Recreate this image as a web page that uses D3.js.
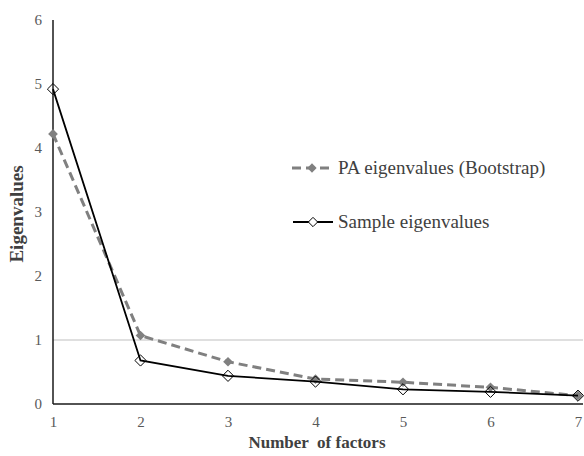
<!DOCTYPE html>
<meta charset="utf-8">
<script src="https://d3js.org/d3.v7.min.js"></script>
<style>
  body { margin: 0; background: #fff; }
  svg text { font-family: "Liberation Serif", "Times New Roman", Tinos, "DejaVu Serif", serif !important; }
</style>
<div id="chart"></div>
<script>
// data
var factors = [1, 2, 3, 4, 5, 6, 7];
var paValues = [4.22, 1.07, 0.66, 0.39, 0.34, 0.26, 0.13];
var sampleValues = [4.92, 0.68, 0.44, 0.35, 0.23, 0.19, 0.13];
var yTicks = [0, 1, 2, 3, 4, 5, 6];
var seriesNames = ["PA eigenvalues (Bootstrap)", "Sample eigenvalues"];

var width = 584, height = 456;
var svg = d3.select("#chart").append("svg")
    .attr("width", width)
    .attr("height", height);

var x = d3.scaleLinear().domain([1, 7]).range([53, 578]);
var y = d3.scaleLinear().domain([0, 6]).range([404, 20]);

// reference line at 1
svg.append("line")
    .attr("x1", x(1)).attr("x2", 583)
    .attr("y1", y(1)).attr("y2", y(1))
    .attr("stroke", "#bfbfbf").attr("stroke-width", 1);

// x axis
var xAxis = svg.append("g")
    .attr("transform", "translate(0," + y(0) + ")")
    .call(d3.axisBottom(x).tickValues(factors).tickFormat(d3.format("d")).tickSize(0).tickPadding(12));
xAxis.select(".domain").remove();
svg.append("line")
    .attr("x1", x(1)).attr("x2", 583)
    .attr("y1", y(0)).attr("y2", y(0))
    .attr("stroke", "#1a1a1a").attr("stroke-width", 1.5);

// y axis
var yAxis = svg.append("g")
    .attr("transform", "translate(" + x(1) + ",0)")
    .call(d3.axisLeft(y).tickValues(yTicks).tickFormat(d3.format("d")).tickSize(0).tickPadding(11));
yAxis.select(".domain").remove();
svg.append("line")
    .attr("x1", x(1)).attr("x2", x(1))
    .attr("y1", y(6)).attr("y2", y(0))
    .attr("stroke", "#1a1a1a").attr("stroke-width", 1.5);

svg.selectAll(".tick text")
    .attr("font-size", 15)
    .attr("fill", "#595959");

// axis titles
svg.append("text")
    .attr("x", 317).attr("y", 448)
    .attr("text-anchor", "middle")
    .attr("font-size", 17).attr("font-weight", "bold")
    .attr("fill", "#404040")
    .style("white-space", "pre")
    .text("Number  of factors");

svg.append("text")
    .attr("transform", "translate(23,214) rotate(-90)")
    .attr("text-anchor", "middle")
    .attr("font-size", 19).attr("font-weight", "bold")
    .attr("fill", "#404040")
    .text("Eigenvalues");

var line = d3.line()
    .x(function(d, i) { return x(factors[i]); })
    .y(function(d) { return y(d); });

var diamond = d3.symbol().type(d3.symbolDiamond2);

// PA series
svg.append("path")
    .datum(paValues)
    .attr("d", line)
    .attr("fill", "none")
    .attr("stroke", "#808080")
    .attr("stroke-width", 3)
    .attr("stroke-dasharray", "9,5");

svg.selectAll(".pa")
    .data(paValues)
    .enter().append("path")
    .attr("class", "pa")
    .attr("transform", function(d, i) { return "translate(" + x(factors[i]) + "," + y(d) + ")"; })
    .attr("d", diamond.size(60))
    .attr("fill", "#808080");

// sample series
svg.append("path")
    .datum(sampleValues)
    .attr("d", line)
    .attr("fill", "none")
    .attr("stroke", "#000")
    .attr("stroke-width", 1.8);

svg.selectAll(".smp")
    .data(sampleValues)
    .enter().append("path")
    .attr("class", "smp")
    .attr("transform", function(d, i) { return "translate(" + x(factors[i]) + "," + y(d) + ")"; })
    .attr("d", diamond.size(80))
    .attr("fill", "none")
    .attr("stroke", "#000")
    .attr("stroke-width", 1);

// legend
var legend = svg.append("g");
var legY = [168, 222];

legend.append("line")
    .attr("x1", 292).attr("x2", 331)
    .attr("y1", legY[0]).attr("y2", legY[0])
    .attr("stroke", "#808080").attr("stroke-width", 3)
    .attr("stroke-dasharray", "9,5");
legend.append("path")
    .attr("transform", "translate(312," + legY[0] + ")")
    .attr("d", diamond.size(55))
    .attr("fill", "#808080");

legend.append("line")
    .attr("x1", 293).attr("x2", 333)
    .attr("y1", legY[1]).attr("y2", legY[1])
    .attr("stroke", "#000").attr("stroke-width", 1.8);
legend.append("path")
    .attr("transform", "translate(313," + legY[1] + ")")
    .attr("d", diamond.size(55))
    .attr("fill", "#fff")
    .attr("stroke", "#000").attr("stroke-width", 1);

legend.selectAll(".leg-text")
    .data(seriesNames)
    .enter().append("text")
    .attr("x", 338)
    .attr("y", function(d, i) { return legY[i] + 6; })
    .attr("font-size", 19)
    .attr("fill", "#404040")
    .text(function(d) { return d; });
</script>
